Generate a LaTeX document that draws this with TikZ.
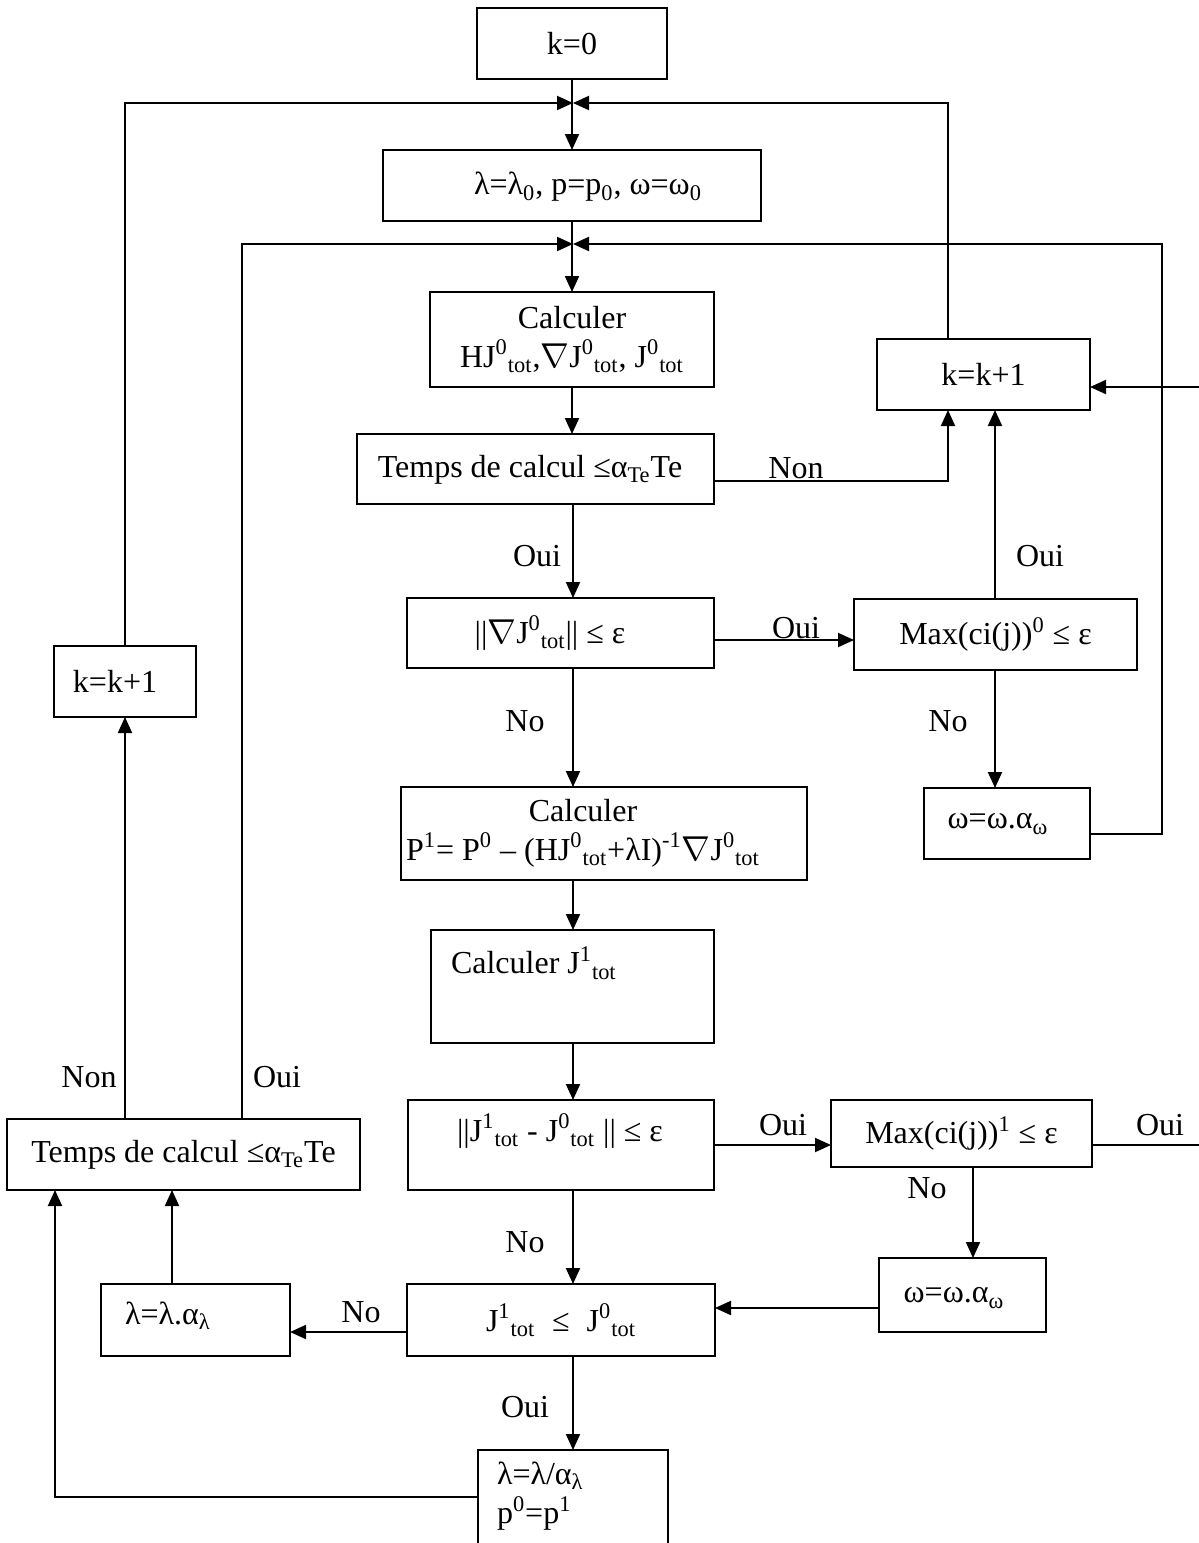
\documentclass[tikz,border=0pt]{standalone}
\usepackage{fontspec}
\setmainfont{Liberation Serif}
\usetikzlibrary{arrows.meta,calc}
\begin{document}
\begin{tikzpicture}[x=0.5pt,y=-0.5pt,
  every node/.style={font=\fontsize{16}{19.5}\selectfont, inner sep=0pt, outer sep=0pt},
  box/.style={draw, line width=1pt},
  wh/.style 2 args={minimum width=#1*0.5pt, minimum height=#2*0.5pt},
  arr/.style={-{Triangle[length=8pt,width=7pt]}},
  lbl/.style={},
  line width=1pt]
\useasboundingbox (0,0) rectangle (1199,1543);
\fill[white] (0,0) rectangle (1199,1543);
\clip (0,0) rectangle (1199,1543);

% helper coordinates
\coordinate (xc) at (573,0);
\coordinate (x948) at (948,0);
\coordinate (x995) at (995,0);
\coordinate (x1162) at (1162,0);
\coordinate (x1215) at (1215,0);
\coordinate (x973) at (973,0);
\coordinate (x242) at (242,0);
\coordinate (x172) at (172,0);
\coordinate (x55) at (55,0);
\coordinate (y481) at (0,481);
\coordinate (y640) at (0,640);
\coordinate (y834) at (0,834);
\coordinate (y1145) at (0,1145);
\coordinate (y387) at (0,387);
\coordinate (y1308) at (0,1308);
\coordinate (y1332) at (0,1332);
\coordinate (y1497) at (0,1497);
\coordinate (J1) at (573,103);
\coordinate (J2) at (573,244);

% boxes
\node[box,wh={190}{71}] (k0) at (572,43.5) {k=0};
\node[box,wh={378}{71}] (init) at (572,185.5) {};
\node (tinit) at (588,187) {λ=λ\textsubscript{0}, p=p\textsubscript{0}, ω=ω\textsubscript{0}};
\node[box,wh={284}{95},align=center] (calc1) at (572,339.5) {Calculer\\HJ\textsuperscript{0}\textsubscript{tot},$\nabla$J\textsuperscript{0}\textsubscript{tot}, J\textsuperscript{0}\textsubscript{tot}};
\node[box,wh={357}{70}] (temps1) at (535.5,469) {};
\node (ttemps1) at (530,470) {Temps de calcul ≤α\textsubscript{Te}Te};
\node[box,wh={213}{71}] (kk1R) at (983.5,374.5) {k=k+1};
\node[box,wh={307}{70}] (gradtest) at (560.5,633) {};
\node (tgrad) at (550,633) {||$\nabla$J\textsuperscript{0}\textsubscript{tot}|| ≤ ε};
\node[box,wh={283}{71}] (max0) at (995.5,634.5) {Max(ci(j))\textsuperscript{0} ≤ ε};
\node[box,wh={166}{71}] (om1) at (1007,823.5) {};
\node (tom1) at (998,824) {ω=ω.α\textsubscript{ω}};
\node[box,wh={406}{93}] (calcP) at (604,833.5) {};
\node[align=center] (tcalcP) at (583,833) {Calculer\\P\textsuperscript{1}= P\textsuperscript{0} – (HJ\textsuperscript{0}\textsubscript{tot}+λI)\textsuperscript{-1}$\nabla$J\textsuperscript{0}\textsubscript{tot}};
\node[box,wh={283}{113}] (calcJ) at (572.5,986.5) {};
\node[anchor=west] (tcalcJ) at (451,963) {Calculer J\textsuperscript{1}\textsubscript{tot}};
\node[box,wh={306}{90}] (jtest) at (561,1145) {};
\node (tjtest) at (560,1131) {||J\textsuperscript{1}\textsubscript{tot} - J\textsuperscript{0}\textsubscript{tot} || ≤ ε};
\node[box,wh={261}{67}] (max1) at (961.5,1133.5) {Max(ci(j))\textsuperscript{1} ≤ ε};
\node[box,wh={167}{74}] (om2) at (962.5,1295) {};
\node (tom2) at (954,1298) {ω=ω.α\textsubscript{ω}};
\node[box,wh={308}{72}] (jj) at (561,1320) {J\textsuperscript{1}\textsubscript{tot} \;≤\; J\textsuperscript{0}\textsubscript{tot}};
\node[box,wh={189}{72}] (lam2) at (195.5,1320) {};
\node (tlam2) at (168,1316) {λ=λ.α\textsubscript{λ}};
\node[box,wh={353}{71}] (temps2) at (183.5,1154.5) {Temps de calcul ≤α\textsubscript{Te}Te};
\node[box,wh={142}{71}] (kk1L) at (125,681.5) {};
\node (tkk1L) at (115,681) {k=k+1};
\node[box,wh={190}{110}] (last) at (573,1505) {};
\node[anchor=north west, align=left] (tlast) at (497,1462) {λ=λ/α\textsubscript{λ}\\p\textsuperscript{0}=p\textsuperscript{1}};

% main column
\draw[arr] (k0.south) -- (init.north);
\draw[arr] (init.south) -- (calc1.north);
\draw[arr] (calc1.south) -- (calc1.south |- temps1.north);
\draw[arr] (temps1.south -| xc) -- (gradtest.north -| xc);
\draw[arr] (gradtest.south -| xc) -- (calcP.north -| xc);
\draw[arr] (calcP.south -| xc) -- (calcJ.north -| xc);
\draw[arr] (calcJ.south -| xc) -- (jtest.north -| xc);
\draw[arr] (jtest.south -| xc) -- (jj.north -| xc);
\draw[arr] (jj.south -| xc) -- (last.north -| xc);

% loops to junctions
\draw[arr] (kk1L.north) |- (J1);
\draw[arr] (kk1R.north -| x948) |- (J1);
\draw[arr] (temps2.north -| x242) |- (J2);
\draw[arr] (om1.east |- y834) -| (x1162 |- J2) -- (J2);

% right side
\draw[arr] (temps1.east |- y481) -| (kk1R.south -| x948);
\draw[arr] (gradtest.east |- y640) -- (max0.west |- y640);
\draw[arr] (max0.north -| x995) -- (kk1R.south -| x995);
\draw[arr] (max0.south -| x995) -- (om1.north -| x995);
\draw[arr] (jtest.east |- y1145) -- (max1.west |- y1145);
\draw[arr] (max1.east |- y1145) -- (x1215 |- y1145) -- (x1215 |- y387) -- (kk1R.east |- y387);
\draw[arr] (max1.south -| x973) -- (om2.north -| x973);
\draw[arr] (om2.west |- y1308) -- (jj.east |- y1308);

% left side
\draw[arr] (jj.west |- y1332) -- (lam2.east |- y1332);
\draw[arr] (lam2.north -| x172) -- (temps2.south -| x172);
\draw[arr] (last.west |- y1497) -| (temps2.south -| x55);
\draw[arr] (temps2.north -| kk1L.south) -- (kk1L.south);

% labels
\node[lbl] (l1) at (796,468) {Non};
\node[lbl] (l2) at (537,556) {Oui};
\node[lbl] (l3) at (796,628) {Oui};
\node[lbl] (l4) at (1040,556) {Oui};
\node[lbl] (l5) at (525,721) {No};
\node[lbl] (l6) at (948,721) {No};
\node[lbl] (l7) at (89,1077) {Non};
\node[lbl] (l8) at (277,1077) {Oui};
\node[lbl] (l9) at (783,1125) {Oui};
\node[lbl] (l10) at (1160,1125) {Oui};
\node[lbl] (l11) at (927,1188) {No};
\node[lbl] (l12) at (525,1242) {No};
\node[lbl] (l13) at (361,1312) {No};
\node[lbl] (l14) at (525,1407) {Oui};
\end{tikzpicture}
\end{document}
